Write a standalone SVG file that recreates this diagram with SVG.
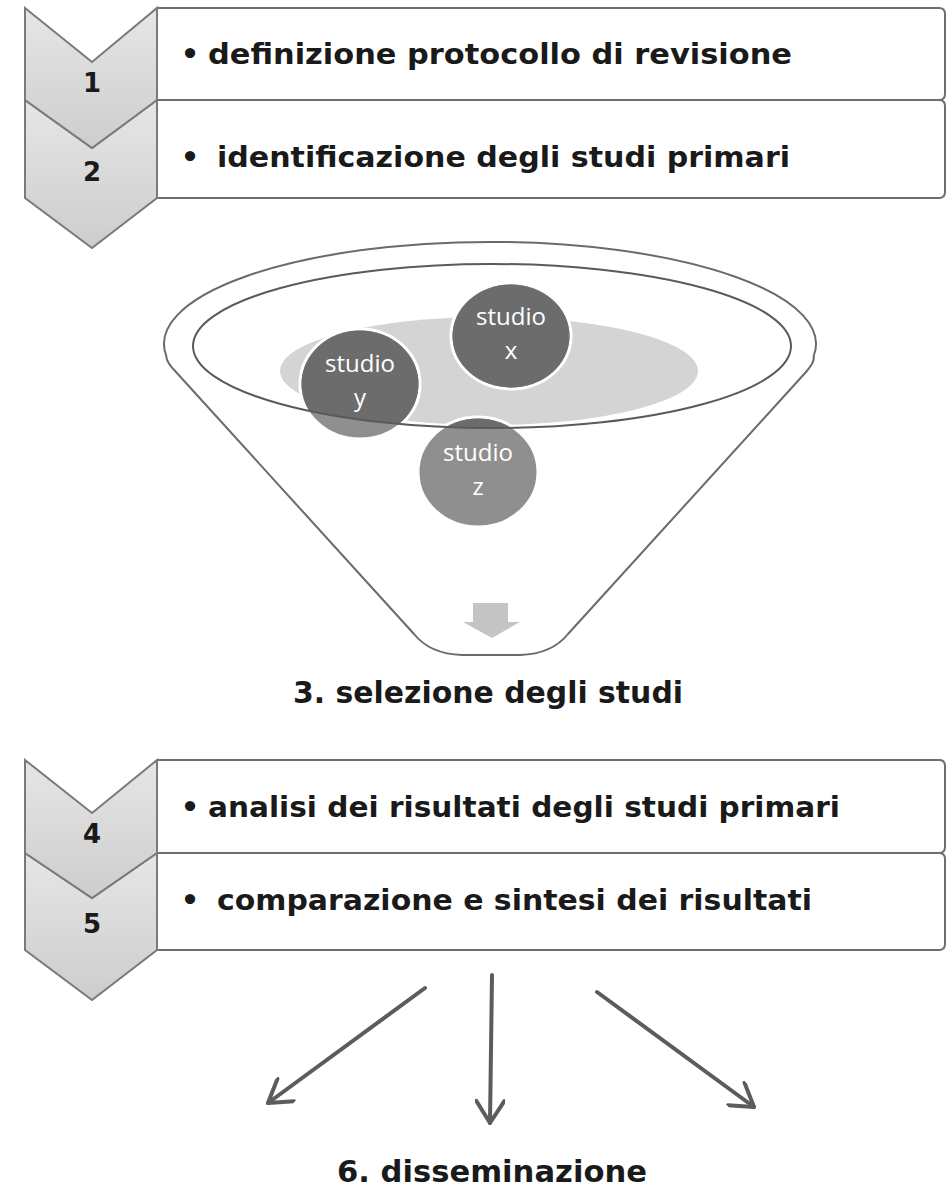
<svg xmlns="http://www.w3.org/2000/svg" width="946" height="1187" viewBox="0 0 946 1187">
<defs>
<linearGradient id="chev" x1="0" y1="0" x2="0" y2="1">
<stop offset="0" stop-color="#e6e6e6"/>
<stop offset="1" stop-color="#cdcdcd"/>
</linearGradient>
<clipPath id="inner"><ellipse cx="492" cy="346" rx="299" ry="82"/></clipPath>
<marker id="ah" viewBox="0 0 28 30" refX="25" refY="15" markerWidth="28" markerHeight="30" markerUnits="userSpaceOnUse" orient="auto">
<path d="M3,1 L25,15 L3,29" fill="none" stroke="#5c5c5c" stroke-width="4" stroke-linecap="round" stroke-linejoin="round"/>
</marker>
<style>
.chev{fill:url(#chev);stroke:#7a7a7a;stroke-width:2;stroke-linejoin:miter}
.box{fill:#fff;stroke:#6e6e6e;stroke-width:2}
.num{font-family:"DejaVu Sans",Verdana,sans-serif;font-weight:bold;font-size:26px;fill:#1a1a1a;text-anchor:middle}
.lbl{font-family:"DejaVu Sans",Verdana,sans-serif;font-weight:bold;font-size:29px;fill:#1a1a1a}
.bul{font-family:"DejaVu Sans",Verdana,sans-serif;font-weight:bold;font-size:29px;fill:#1a1a1a;text-anchor:middle}
.head{font-family:"DejaVu Sans",Verdana,sans-serif;font-weight:bold;font-size:30px;fill:#1a1a1a}
.st{font-family:"Open Sans","Noto Sans",sans-serif;font-size:24px;fill:#fff;text-anchor:middle}
.circL{fill:#8f8f8f;stroke:#fff;stroke-width:3}
.circD{fill:#6c6c6c}
.conn{stroke:#5c5c5c;stroke-width:4;fill:none;stroke-linecap:round;marker-end:url(#ah)}
</style>
</defs>
<rect width="946" height="1187" fill="#fff"/>

<g id="step2">
<path class="box" d="M157,100 H939 Q945,100 945,106 V192 Q945,198 939,198 H157"/>
<path class="chev" d="M25,100 L92,148 L157,100 L157,198 L92,248 L25,198 Z"/>
<text class="num" x="92" y="181">2</text>
<text class="bul" x="190" y="167">•</text>
<text class="lbl" x="217" y="167" textLength="573" lengthAdjust="spacingAndGlyphs">identificazione degli studi primari</text>
</g>
<g id="step1">
<path class="box" d="M157,8 H939 Q945,8 945,14 V94 Q945,100 939,100 H157"/>
<path class="chev" d="M25,8 L92,62 L157,8 L157,100 L92,148 L25,100 Z"/>
<text class="num" x="92" y="92">1</text>
<text class="bul" x="190" y="64">•</text>
<text class="lbl" x="208" y="64" textLength="584" lengthAdjust="spacingAndGlyphs">definizione protocollo di revisione</text>
</g>

<g id="funnel">
<path d="M176,372 Q166,362 166.3,356 A326,102 0 1 1 813.7,356 Q815,362 806,372 L568,634 Q552,654 520,655 L462,655 Q430,654 414,634 Z" fill="#fff" stroke="#6a6a6a" stroke-width="2"/>
<ellipse cx="489" cy="371" rx="209" ry="54" fill="#d4d4d4"/>
<polygon points="473,603 508,603 508,622 520,622 492,638 463,622 473,622" fill="#c4c4c4"/>
</g>
<g id="studio-z">
<ellipse class="circL" cx="478" cy="472" rx="60" ry="55"/>
<ellipse class="circD" cx="478" cy="472" rx="58.5" ry="53.5" clip-path="url(#inner)"/>
</g>
<g id="studio-y">
<ellipse class="circL" cx="360" cy="384" rx="60" ry="55"/>
<ellipse class="circD" cx="360" cy="384" rx="58.5" ry="53.5" clip-path="url(#inner)"/>
</g>
<g id="studio-x">
<ellipse class="circL" cx="511" cy="336" rx="60" ry="53"/>
<ellipse class="circD" cx="511" cy="336" rx="58.5" ry="51.5" clip-path="url(#inner)"/>
</g>
<g id="funnel-rim">
<ellipse cx="492" cy="346" rx="299" ry="82" fill="none" stroke="#5a5a5a" stroke-width="2"/>
</g>
<g id="studio-labels">
<text class="st" x="511" y="325">studio</text>
<text class="st" x="511" y="359">x</text>
<text class="st" x="360" y="372">studio</text>
<text class="st" x="360" y="406">y</text>
<text class="st" x="478" y="461">studio</text>
<text class="st" x="478" y="495">z</text>
</g>
<g id="step3">
<text class="head" x="293" y="703" textLength="390" lengthAdjust="spacingAndGlyphs">3. selezione degli studi</text>
</g>

<g id="step5">
<path class="box" d="M157,853 H939 Q945,853 945,859 V944 Q945,950 939,950 H157"/>
<path class="chev" d="M25,853 L92,898 L157,853 L157,950 L92,1000 L25,950 Z"/>
<text class="num" x="92" y="933">5</text>
<text class="bul" x="190" y="910">•</text>
<text class="lbl" x="217" y="910" textLength="595" lengthAdjust="spacingAndGlyphs">comparazione e sintesi dei risultati</text>
</g>
<g id="step4">
<path class="box" d="M157,760 H939 Q945,760 945,766 V847 Q945,853 939,853 H157"/>
<path class="chev" d="M25,760 L92,813 L157,760 L157,853 L92,898 L25,853 Z"/>
<text class="num" x="92" y="843">4</text>
<text class="bul" x="190" y="817">•</text>
<text class="lbl" x="208" y="817" textLength="632" lengthAdjust="spacingAndGlyphs">analisi dei risultati degli studi primari</text>
</g>

<g id="connectors">
<line class="conn" x1="425" y1="988" x2="268" y2="1103"/>
<line class="conn" x1="492" y1="975" x2="490" y2="1123"/>
<line class="conn" x1="597" y1="992" x2="754" y2="1107"/>
</g>
<g id="step6">
<text class="head" x="337" y="1182" textLength="310" lengthAdjust="spacingAndGlyphs">6. disseminazione</text>
</g>
</svg>
